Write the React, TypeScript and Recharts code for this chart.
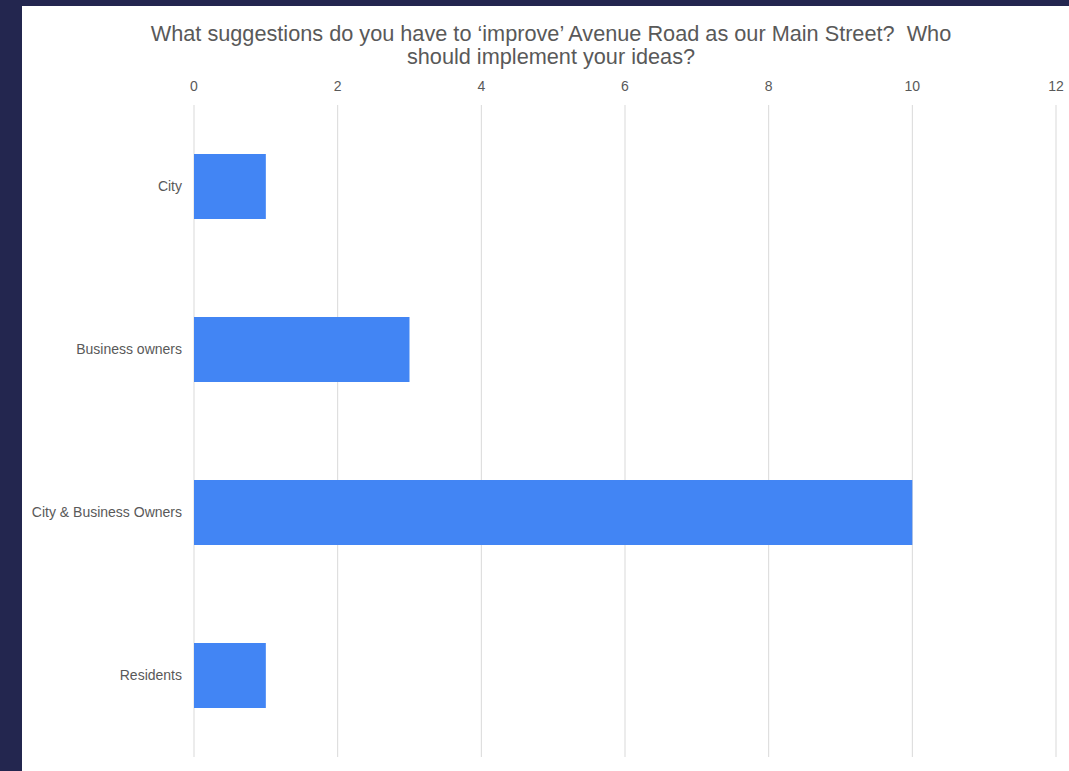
import { BarChart, Bar, XAxis, YAxis, CartesianGrid } from "recharts";

const categories = ["City", "Business owners", "City & Business Owners", "Residents"];
const counts = [1, 3, 10, 1];
const xTicks = [0, 2, 4, 6, 8, 10, 12];

const titleLines = [
  "What suggestions do you have to \u2018improve\u2019 Avenue Road as our Main Street?  Who",
  "should implement your ideas?",
];

const data = categories.map((name, i) => ({ name, count: counts[i] }));

const font = "Arial, 'Liberation Sans', sans-serif";

export default function App() {
  return (
    <div style={{ position: "fixed", inset: 0, width: 1069, height: 771, background: "#23264f", overflow: "hidden" }}>
      <div
        style={{
          position: "absolute",
          left: 22,
          top: 6,
          width: 1047,
          height: 765,
          background: "#ffffff",
          fontFamily: font,
        }}
      >
        <div
          style={{
            position: "absolute",
            left: 0,
            top: 16,
            width: 1058,
            textAlign: "center",
            fontSize: 21.7,
            lineHeight: "23px",
            color: "#595959",
          }}
        >
          {titleLines.map((l) => (
            <div key={l} style={{ whiteSpace: "pre" }}>{l}</div>
          ))}
        </div>
        <BarChart
          width={1047}
          height={765}
          data={data}
          layout="vertical"
          margin={{ top: 69, right: 13, left: 12, bottom: 14 }}
          barCategoryGap="30%"
        >
          <CartesianGrid horizontal={false} stroke="#d9d9d9" />
          <XAxis
            type="number"
            orientation="top"
            domain={[0, 12]}
            ticks={xTicks}
            height={30}
            axisLine={false}
            tickLine={false}
            tickSize={6}
            tickMargin={8}
            tick={{ fontSize: 14, fill: "#595959", fontFamily: font }}
          />
          <YAxis
            type="category"
            dataKey="name"
            width={160}
            axisLine={false}
            tickLine={false}
            tickSize={6}
            tickMargin={6}
            tick={{ fontSize: 14, fill: "#595959", fontFamily: font }}
          />
          <Bar dataKey="count" fill="#4285f4" isAnimationActive={false} />
        </BarChart>
      </div>
    </div>
  );
}
